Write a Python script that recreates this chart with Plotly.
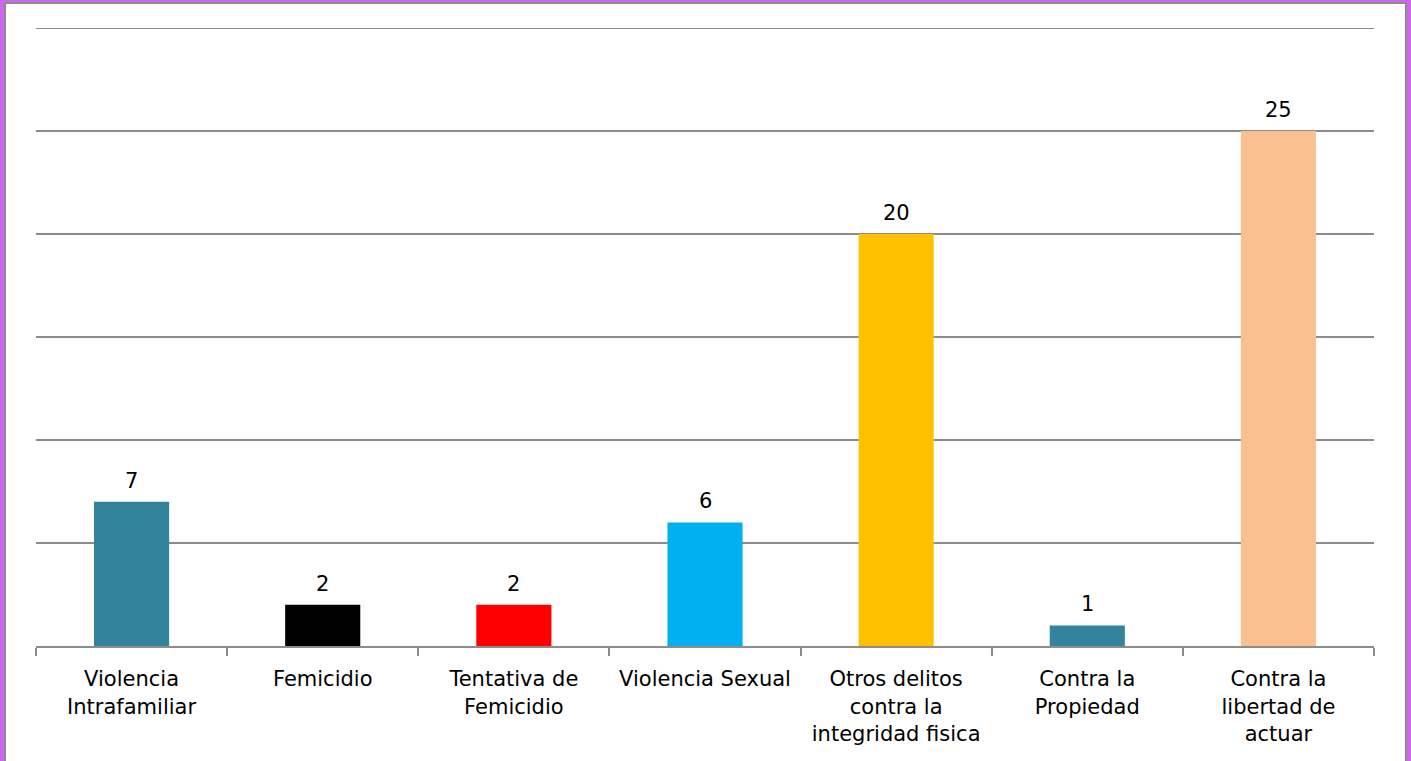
import plotly.graph_objects as go

categories = [
    "Violencia<br>Intrafamiliar",
    "Femicidio",
    "Tentativa de<br>Femicidio",
    "Violencia Sexual",
    "Otros delitos<br>contra la<br>integridad fisica",
    "Contra la<br>Propiedad",
    "Contra la<br>libertad de<br>actuar",
]
values = [7, 2, 2, 6, 20, 1, 25]
colors = ["#31849B", "#000000", "#FF0000", "#00B0F0", "#FFC000", "#31849B", "#FAC090"]

W, H = 1411, 761
L, R, T, B = 36, 37, 28, 115
YMAX = 30
pw = W - L - R
ph = H - T - B

def px_x(p):
    return (p - L) / pw

def px_y(p):
    return (H - B - p) / ph

fig = go.Figure(
    go.Bar(
        x=categories,
        y=values,
        marker=dict(color=colors, line=dict(width=0)),
        hoverinfo="x+y",
    )
)

annotations = [
    dict(
        x=c, y=v, xref="x", yref="y", text=str(v), showarrow=False,
        yanchor="bottom", yshift=7,
        font=dict(family="DejaVu Sans", size=21, color="#000000"),
    )
    for c, v in zip(categories, values)
]

fig.update_layout(
    width=W,
    height=H,
    margin=dict(l=L, r=R, t=T, b=B, pad=0),
    paper_bgcolor="#CF66F0",
    plot_bgcolor="rgba(0,0,0,0)",
    bargap=0.607,
    showlegend=False,
    font=dict(family="DejaVu Sans", size=21, color="#000000"),
    annotations=annotations,
    shapes=[
        dict(
            type="rect", xref="paper", yref="paper", layer="below",
            x0=px_x(5), x1=px_x(1406), y0=px_y(800), y1=px_y(3),
            fillcolor="#FFFFFF", line=dict(color="#8C8C8C", width=2),
        ),
        dict(
            type="line", xref="paper", yref="y", layer="below",
            x0=0, x1=1, y0=YMAX, y1=YMAX,
            line=dict(color="#8C8C8C", width=2),
        ),
    ],
)

fig.update_xaxes(
    showline=True, linecolor="#8C8C8C", linewidth=2,
    ticks="outside", tickson="boundaries", ticklen=8, tickwidth=2, tickcolor="#8C8C8C",
    showgrid=False, ticklabelstandoff=13,
    tickfont=dict(family="DejaVu Sans", size=21, color="#000000"),
)
fig.update_yaxes(
    range=[0, YMAX], dtick=5, showticklabels=False,
    showgrid=True, gridcolor="#8C8C8C", gridwidth=2,
    zeroline=False, showline=False, ticks="",
)

fig.write_html(
    "out.html",
    config={"displayModeBar": False},
    post_script="document.body.style.margin='0';document.body.style.overflow='hidden';",
)
